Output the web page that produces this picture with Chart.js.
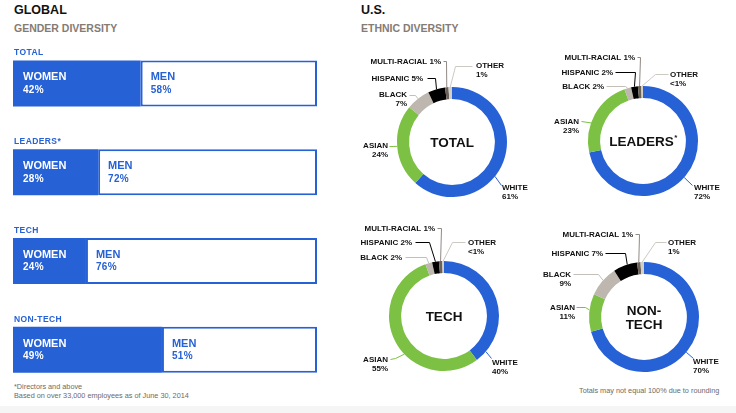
<!DOCTYPE html>
<html><head><meta charset="utf-8">
<script src="https://cdn.jsdelivr.net/npm/chart.js@4"></script>
<style>
html,body{margin:0;padding:0;background:#fff;width:736px;height:413px;overflow:hidden;font-family:"Liberation Sans",Arial,sans-serif;position:relative;}
.t{position:absolute;white-space:nowrap;line-height:1;}
canvas{position:absolute;}
</style></head><body>
<div class="t" style="left:14px;top:4.4px;font-size:12.5px;font-weight:bold;color:#111">GLOBAL</div>
<div class="t" style="left:14px;top:22.6px;font-size:10.5px;font-weight:bold;color:#857b73">GENDER DIVERSITY</div>
<div class="t" style="left:361px;top:4.4px;font-size:12.5px;font-weight:bold;color:#111">U.S.</div>
<div class="t" style="left:361px;top:22.6px;font-size:10.5px;font-weight:bold;color:#857b73">ETHNIC DIVERSITY</div>
<div class="t" style="left:14px;top:383px;font-size:7.3px;color:#6e6a66">*Directors and above</div>
<div class="t" style="left:14px;top:391.8px;font-size:7.3px;color:#6e6a66">Based on over 33,000 employees as of June 30, 2014</div>
<div class="t" style="left:579px;top:387.3px;font-size:7.3px;color:#6e6a66">Totals may not equal 100% due to rounding</div>
<div style="position:absolute;left:0;top:406px;width:736px;height:7px;background:#f5f5f5"></div>

<canvas id="bars" width="340" height="413" style="left:0;top:0"></canvas>
<canvas id="d0" width="206" height="170" style="left:346px;top:42px"></canvas>
<canvas id="d1" width="206" height="170" style="left:537px;top:41px"></canvas>
<canvas id="d2" width="206" height="170" style="left:338px;top:216px"></canvas>
<canvas id="d3" width="206" height="170" style="left:538px;top:217px"></canvas>

<script>
// ---------- data ----------
const genderGroups = ['TOTAL', 'LEADERS*', 'TECH', 'NON-TECH'];
const womenPct = [42, 28, 24, 49];
const menPct = [58, 72, 76, 51];

const ethnicGroups = ['WHITE', 'ASIAN', 'BLACK', 'HISPANIC', 'MULTI-RACIAL', 'OTHER'];
const ethTotal    = [61, 24, 7, 5, 1, 1];
const ethLeaders  = [72, 23, 2, 2, 1, 0.5];
const ethTech     = [40, 55, 2, 2, 1, 0.5];
const ethNonTech  = [70, 11, 9, 7, 1, 1];
const donutTitles = [['TOTAL'], ['LEADERS*'], ['TECH'], ['NON-', 'TECH']];

// ---------- styles ----------
const BLUE = '#2761d6';
const sliceColors  = [BLUE, '#7cc143', '#bdb7af', '#000000', '#6b6158', '#d2cec8'];
const leaderColors = [BLUE, '#7cc143', '#c4bfb8', '#000000', '#8f8984', '#cdc9c3'];
const FONT = '"Liberation Sans", Arial, sans-serif';

Chart.defaults.font.family = FONT;
Chart.defaults.animation = false;
Chart.defaults.plugins.legend.display = false;
Chart.defaults.plugins.tooltip.enabled = false;

function txt(ctx, s, x, y, size, color, align, weight, spacing) {
  ctx.save();
  ctx.font = (weight || 'bold') + ' ' + size + 'px ' + FONT;
  if ('letterSpacing' in ctx) ctx.letterSpacing = (spacing || 0) + 'px';
  ctx.fillStyle = color;
  ctx.textAlign = align || 'left';
  ctx.textBaseline = 'alphabetic';
  ctx.fillText(s, x, y + size * 0.358);
  ctx.restore();
}
const pctText = v => (v < 1 ? '<1%' : v + '%');

// ---------- gender bars ----------
const barText = {
  id: 'barText',
  afterDraw(chart) {
    const ctx = chart.ctx;
    const w = chart.getDatasetMeta(0).data, m = chart.getDatasetMeta(1).data;
    chart.data.labels.forEach((lab, i) => {
      const a = w[i].getProps(['x', 'y', 'base', 'height'], true);
      const b = m[i].getProps(['x', 'y', 'base', 'height'], true);
      const top = a.y - a.height / 2;
      txt(ctx, lab, chart.chartArea.left + 1, top - 8, 8.5, BLUE, 'left', 'bold', 0.4);
      txt(ctx, 'WOMEN', a.base + 10, a.y - 7, 11, '#fff');
      txt(ctx, womenPct[i] + '%', a.base + 10, a.y + 6, 10, '#fff', 'left', 'bold', 0.3);
      txt(ctx, 'MEN', b.base + 10, b.y - 7, 11, BLUE);
      txt(ctx, menPct[i] + '%', b.base + 10, b.y + 6, 10, BLUE, 'left', 'bold', 0.3);
    });
  }
};

new Chart(document.getElementById('bars'), {
  type: 'bar',
  data: {
    labels: genderGroups,
    datasets: [
      { label: 'WOMEN', data: womenPct, backgroundColor: BLUE, borderWidth: 0, inflateAmount: 0 },
      { label: 'MEN', data: menPct, backgroundColor: '#ffffff', borderColor: BLUE, borderWidth: 2, borderSkipped: false, inflateAmount: 0 }
    ]
  },
  options: {
    responsive: false,
    indexAxis: 'y',
    events: [],
    layout: { padding: { left: 13, right: 23, top: 39, bottom: 19 } },
    datasets: { bar: { barThickness: 46 } },
    scales: {
      x: { stacked: true, min: 0, max: 100, display: false },
      y: { stacked: true, display: false }
    }
  },
  plugins: [barText]
});

// ---------- ethnic donuts ----------
const donutLayouts = [
  [ {x:50,y:45,a:'l',p:[[49,43]],at:0.58},
    {x:-64,y:3,a:'r',p:[[-63,4]],at:0.5},
    {x:-45,y:-48,a:'r',p:[[-43,-47],[-37,-47]],at:0.5},
    {x:-29,y:-64,a:'r',one:true,p:[[-25,-64],[-17,-64]],at:0.5},
    {x:-11,y:-81,a:'r',one:true,p:[[-9,-81],[-6,-81]],at:0.5},
    {x:24,y:-77,a:'l',p:[[20,-76],[3,-76]],at:0.5} ],
  [ {x:51,y:46,a:'l',p:[[49,44]],at:0.51},
    {x:-64,y:-20,a:'r',p:[[-62,-20]],at:0.38},
    {x:-39,y:-55,a:'r',one:true,p:[[-37,-55],[-18,-55]],at:0.5},
    {x:-30,y:-69,a:'r',one:true,p:[[-28,-69],[-8,-69]],at:0.5},
    {x:-8,y:-84,a:'r',one:true,p:[[-6,-84],[-3,-84]],at:0.5},
    {x:27,y:-67,a:'l',p:[[25,-67],[12,-67]],at:0.5} ],
  [ {x:48,y:46,a:'l',p:[[47,42]],at:0.91},
    {x:-56,y:43,a:'r',p:[[-54,43],[-49,42]],at:0.42},
    {x:-42,y:-59,a:'r',one:true,p:[[-39,-59],[-18,-59]],at:0.5},
    {x:-32,y:-74,a:'r',one:true,p:[[-29,-74],[-15,-74]],at:0.5},
    {x:-9,y:-88,a:'r',one:true,p:[[-7,-88],[-3,-88]],at:0.5},
    {x:24,y:-74,a:'l',p:[[21,-74],[8,-74]],at:0.5} ],
  [ {x:49,y:44,a:'l',p:[[49,41]],at:0.51},
    {x:-69,y:-10,a:'r',p:[[-68,-10],[-59,-10]],at:0.57},
    {x:-73,y:-43,a:'r',p:[[-71,-43],[-46,-43]],at:0.53},
    {x:-41,y:-64,a:'r',one:true,p:[[-39,-64],[-19,-64]],at:0.59},
    {x:-11,y:-83,a:'r',one:true,p:[[-9,-83],[-5,-83]],at:0.5},
    {x:24,y:-75,a:'l',p:[[22,-75],[11,-75]],at:0.5} ]
];

const donutLabels = {
  id: 'donutLabels',
  afterDraw(chart, args, opts) {
    const ctx = chart.ctx;
    const meta = chart.getDatasetMeta(0);
    const vals = chart.data.datasets[0].data;
    const c = meta.data[0].getProps(['x', 'y'], true);
    const cx = c.x, cy = c.y;
    opts.specs.forEach((s, i) => {
      const arc = meta.data[i].getProps(['startAngle', 'endAngle', 'outerRadius'], true);
      const ang = arc.startAngle + (arc.endAngle - arc.startAngle) * s.at;
      const ex = cx + Math.cos(ang) * arc.outerRadius, ey = cy + Math.sin(ang) * arc.outerRadius;
      ctx.save();
      ctx.strokeStyle = leaderColors[i];
      ctx.lineWidth = 1;
      ctx.beginPath();
      s.p.forEach((pt, k) => {
        const X = Math.round(cx + pt[0]) + 0.5, Y = Math.round(cy + pt[1]) + 0.5;
        if (k) ctx.lineTo(X, Y); else ctx.moveTo(X, Y);
      });
      ctx.lineTo(ex, ey);
      ctx.stroke();
      ctx.restore();
      const al = s.a === 'r' ? 'right' : 'left';
      const name = chart.data.labels[i], pct = pctText(vals[i]);
      if (s.one) {
        txt(ctx, name + ' ' + pct, cx + s.x, cy + s.y, 8, '#111', al);
      } else {
        txt(ctx, name, cx + s.x, cy + s.y, 8, '#111', al);
        txt(ctx, pct, cx + s.x, cy + s.y + 9.5, 8, '#111', al);
      }
    });
    // centre title
    const lines = opts.title;
    const lh = 14.6;
    const fs = 13.5;
    lines.forEach((ln, k) => {
      const y = cy + (k - (lines.length - 1) / 2) * lh;
      if (ln.endsWith('*')) {
        const base = ln.slice(0, -1);
        ctx.save();
        ctx.font = 'bold ' + fs + 'px ' + FONT;
        const w1 = ctx.measureText(base).width;
        ctx.font = 'bold 8px ' + FONT;
        const w2 = ctx.measureText('*').width;
        ctx.restore();
        const x0 = cx - (w1 + w2) / 2;
        txt(ctx, base, x0, y, fs, '#111', 'left');
        txt(ctx, '*', x0 + w1 + 0.5, y - 4, 8, '#111', 'left');
      } else {
        txt(ctx, ln, cx, y, fs, '#111', 'center');
      }
    });
  }
};

const donutData = [ethTotal, ethLeaders, ethTech, ethNonTech];
donutData.forEach((vals, k) => {
  new Chart(document.getElementById('d' + k), {
    type: 'doughnut',
    data: {
      labels: ethnicGroups,
      datasets: [{ data: vals, backgroundColor: sliceColors, borderWidth: 0, hoverOffset: 0 }]
    },
    options: {
      responsive: false,
      events: [],
      cutout: '78%',
      radius: 55,
      layout: { padding: { left: 51, right: 45, top: 45, bottom: 15 } },
      plugins: { donutLabels: { specs: donutLayouts[k], title: donutTitles[k] } }
    },
    plugins: [donutLabels]
  });
});
</script>
</body></html>
